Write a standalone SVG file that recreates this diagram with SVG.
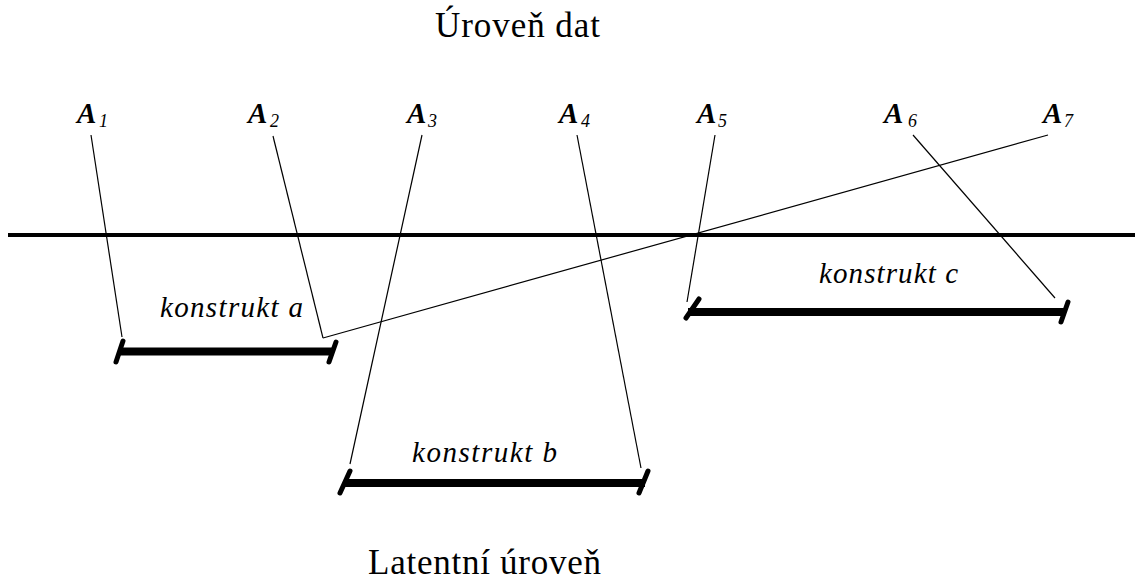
<svg xmlns="http://www.w3.org/2000/svg" width="1135" height="580" viewBox="0 0 1135 580">
<style>
.title{font-family:"Liberation Serif","Times New Roman",serif;font-size:35px;fill:#000}
.attr{font-family:"Liberation Serif","Times New Roman",serif;font-size:29px;font-weight:bold;font-style:italic;fill:#000}
.sub{font-family:"Liberation Serif","Times New Roman",serif;font-size:18px;font-style:italic;fill:#000}
.lbl{font-family:"Liberation Serif","Times New Roman",serif;font-size:29px;font-style:italic;fill:#000}
.thin{stroke:#000;stroke-width:1.2;fill:none}
.bar{stroke:#000;stroke-width:8;fill:none}
.tick{stroke:#000;stroke-width:5;fill:none;stroke-linecap:round}
</style>
<rect width="1135" height="580" fill="#fff"/>
<text class="title" x="435" y="37" textLength="165" lengthAdjust="spacing">Úroveň dat</text>
<text class="title" x="368" y="574" textLength="233" lengthAdjust="spacing">Latentní úroveň</text>
<line x1="8" y1="235" x2="1135" y2="235" stroke="#000" stroke-width="4"/>
<g id="A1"><text class="attr" x="77" y="123">A</text><text class="sub" x="99" y="127">1</text></g>
<g id="A2"><text class="attr" x="248" y="123">A</text><text class="sub" x="270" y="127">2</text></g>
<g id="A3"><text class="attr" x="407" y="123">A</text><text class="sub" x="428" y="127">3</text></g>
<g id="A4"><text class="attr" x="559" y="123">A</text><text class="sub" x="581" y="127">4</text></g>
<g id="A5"><text class="attr" x="697" y="123">A</text><text class="sub" x="718" y="127">5</text></g>
<g id="A6"><text class="attr" x="884" y="123">A</text><text class="sub" x="908" y="127">6</text></g>
<g id="A7"><text class="attr" x="1043" y="123">A</text><text class="sub" x="1064" y="127">7</text></g>
<g id="konstrukt-a">
<line class="bar" x1="119" y1="351.5" x2="333" y2="351.5"/>
<line class="tick" x1="123" y1="341" x2="116" y2="362"/>
<line class="tick" x1="336" y1="342" x2="329" y2="362"/>
<text class="lbl" x="160" y="317" textLength="143" lengthAdjust="spacing">konstrukt a</text>
</g>
<g id="konstrukt-b">
<line class="bar" x1="344" y1="483" x2="645" y2="483"/>
<line class="tick" x1="350" y1="471" x2="340" y2="493"/>
<line class="tick" x1="648" y1="471" x2="639" y2="493"/>
<text class="lbl" x="412" y="462" textLength="145" lengthAdjust="spacing">konstrukt b</text>
</g>
<g id="konstrukt-c">
<line class="bar" x1="688" y1="312" x2="1065" y2="312"/>
<line class="tick" x1="699" y1="299" x2="686" y2="318"/>
<line class="tick" x1="1068" y1="302" x2="1061" y2="322"/>
<text class="lbl" x="819" y="283" textLength="139" lengthAdjust="spacing">konstrukt c</text>
</g>
<g id="connectors">
<line class="thin" x1="91" y1="135" x2="122" y2="337"/>
<line class="thin" x1="273" y1="136" x2="323" y2="338"/>
<line class="thin" x1="323" y1="338" x2="1048" y2="135"/>
<line class="thin" x1="422" y1="135" x2="350" y2="464"/>
<line class="thin" x1="577" y1="135" x2="641" y2="468"/>
<line class="thin" x1="715" y1="135" x2="687" y2="302"/>
<line class="thin" x1="913" y1="135" x2="1055" y2="298"/>
</g>
</svg>
